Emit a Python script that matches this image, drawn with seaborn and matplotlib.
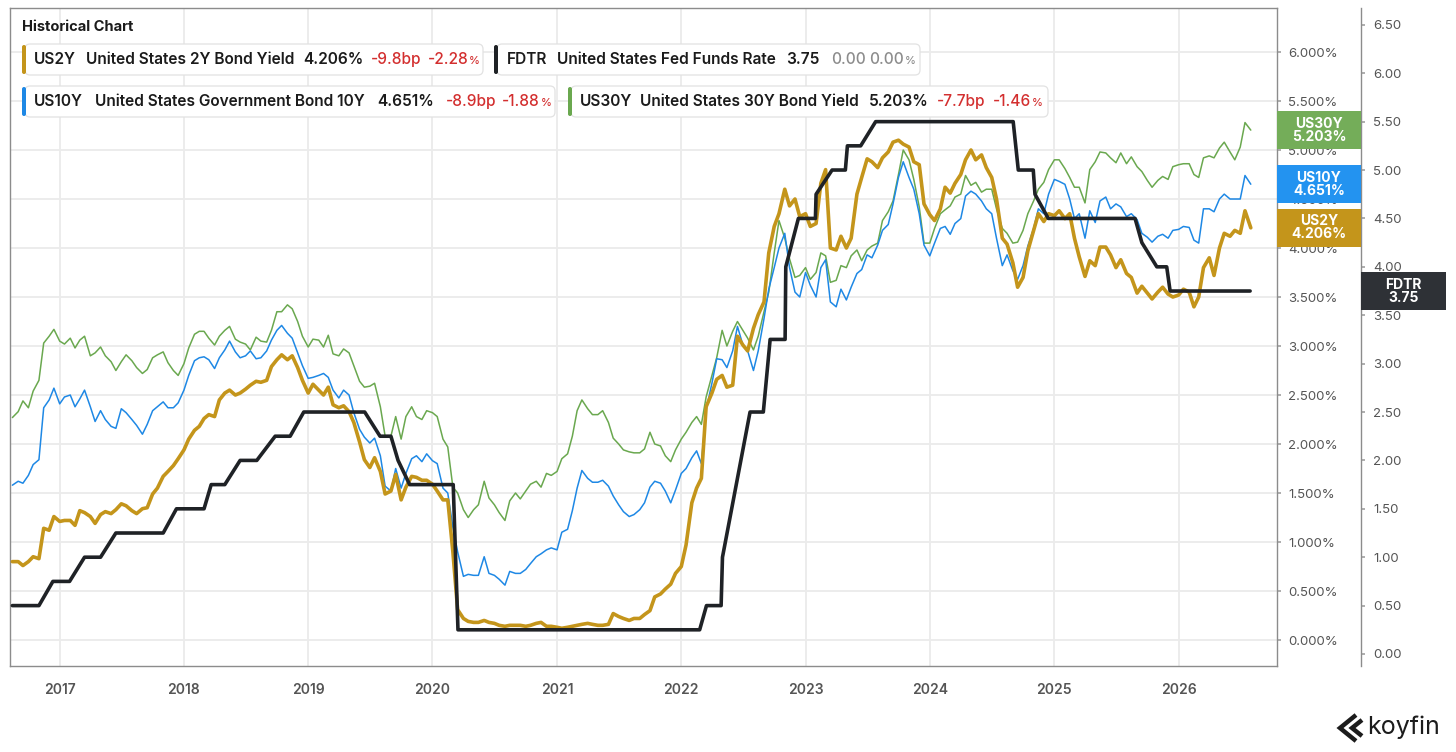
import numpy as np
import pandas as pd
import matplotlib
matplotlib.use("Agg")
import matplotlib.pyplot as plt
import matplotlib.transforms as mtransforms
from matplotlib.patches import FancyBboxPatch, Rectangle
from matplotlib.lines import Line2D
from matplotlib.ticker import FixedLocator, FuncFormatter
import seaborn as sns

W, H = 1456, 752

dates = pd.date_range("2016-08-15", periods=240, freq="SMS")

us2y = [
    0.80, 0.80, 0.76, 0.80, 0.85, 0.83, 1.14, 1.12, 1.26, 1.21,
    1.22, 1.22, 1.17, 1.32, 1.30, 1.26, 1.19, 1.28, 1.31, 1.29,
    1.33, 1.39, 1.37, 1.32, 1.29, 1.34, 1.35, 1.49, 1.55, 1.67,
    1.72, 1.78, 1.85, 1.94, 2.05, 2.14, 2.18, 2.26, 2.30, 2.28,
    2.45, 2.52, 2.55, 2.50, 2.52, 2.56, 2.60, 2.64, 2.63, 2.65,
    2.79, 2.86, 2.91, 2.86, 2.90, 2.78, 2.65, 2.52, 2.61, 2.55,
    2.50, 2.58, 2.40, 2.37, 2.39, 2.33, 2.22, 2.02, 1.84, 1.76,
    1.86, 1.72, 1.49, 1.52, 1.69, 1.43, 1.56, 1.67, 1.66, 1.63,
    1.63, 1.59, 1.52, 1.43, 1.43, 0.90, 0.31, 0.22, 0.19, 0.18,
    0.18, 0.20, 0.18, 0.17, 0.15, 0.14, 0.15, 0.15, 0.15, 0.14,
    0.15, 0.17, 0.18, 0.14, 0.14, 0.13, 0.12, 0.13, 0.14, 0.15,
    0.16, 0.17, 0.16, 0.15, 0.15, 0.16, 0.27, 0.24, 0.22, 0.20,
    0.22, 0.22, 0.26, 0.30, 0.44, 0.47, 0.52, 0.57, 0.68, 0.75,
    0.97, 1.40, 1.55, 1.65, 2.38, 2.52, 2.66, 2.70, 2.58, 2.60,
    3.10, 3.01, 2.95, 3.18, 3.32, 3.45, 3.95, 4.22, 4.35, 4.60,
    4.43, 4.50, 4.32, 4.35, 4.22, 4.25, 4.66, 4.80, 4.00, 3.98,
    4.12, 4.00, 4.10, 4.55, 4.72, 4.91, 4.88, 4.82, 4.92, 4.98,
    5.08, 5.10, 5.06, 5.03, 4.88, 4.85, 4.45, 4.34, 4.28, 4.40,
    4.62, 4.56, 4.66, 4.75, 4.90, 5.00, 4.90, 4.95, 4.82, 4.72,
    4.50, 4.10, 4.04, 3.85, 3.60, 3.70, 3.97, 4.18, 4.35, 4.27,
    4.35, 4.33, 4.38, 4.30, 4.35, 4.10, 3.91, 3.71, 3.87, 3.82,
    4.01, 4.01, 3.93, 3.80, 3.88, 3.74, 3.70, 3.54, 3.61, 3.54,
    3.48, 3.55, 3.60, 3.53, 3.50, 3.52, 3.58, 3.55, 3.40, 3.50,
    3.80, 3.90, 3.72, 4.00, 4.15, 4.12, 4.18, 4.15, 4.38, 4.206,
]

us10y = [
    1.58, 1.62, 1.60, 1.68, 1.79, 1.84, 2.37, 2.45, 2.57, 2.41,
    2.48, 2.50, 2.38, 2.46, 2.55, 2.38, 2.23, 2.34, 2.25, 2.18,
    2.16, 2.36, 2.32, 2.25, 2.19, 2.10, 2.20, 2.34, 2.38, 2.43,
    2.37, 2.37, 2.42, 2.55, 2.70, 2.85, 2.88, 2.89, 2.86, 2.77,
    2.88, 2.96, 3.05, 2.94, 2.88, 2.90, 2.95, 2.87, 2.88, 2.95,
    3.06, 3.16, 3.21, 3.13, 3.08, 2.93, 2.80, 2.67, 2.68, 2.70,
    2.72, 2.68, 2.55, 2.47, 2.55, 2.50, 2.32, 2.15, 2.07, 2.01,
    2.06, 1.88, 1.57, 1.52, 1.75, 1.55, 1.70, 1.85, 1.88, 1.82,
    1.90, 1.83, 1.80, 1.55, 1.50, 1.15, 0.90, 0.65, 0.67, 0.66,
    0.66, 0.85, 0.68, 0.66, 0.62, 0.56, 0.70, 0.68, 0.68, 0.72,
    0.78, 0.85, 0.88, 0.92, 0.94, 0.92, 1.10, 1.13, 1.32, 1.55,
    1.73, 1.65, 1.61, 1.61, 1.63, 1.57, 1.47, 1.38, 1.31, 1.26,
    1.28, 1.33, 1.40, 1.56, 1.62, 1.60, 1.52, 1.40, 1.53, 1.70,
    1.75, 1.86, 1.93, 1.80, 2.35, 2.62, 2.87, 2.86, 2.78, 2.95,
    3.20, 3.01, 2.95, 2.75, 2.95, 3.28, 3.58, 3.80, 4.00, 4.15,
    3.80, 3.55, 3.50, 3.75, 3.62, 3.50, 3.80, 3.88, 3.45, 3.40,
    3.58, 3.47, 3.60, 3.74, 3.78, 3.93, 3.90, 4.03, 4.18, 4.24,
    4.45, 4.72, 4.88, 4.72, 4.60, 4.35, 4.03, 3.92, 4.05, 4.20,
    4.22, 4.14, 4.25, 4.30, 4.53, 4.58, 4.55, 4.48, 4.40, 4.35,
    4.10, 3.82, 3.93, 3.77, 3.68, 3.82, 4.02, 4.20, 4.40, 4.35,
    4.55, 4.70, 4.68, 4.65, 4.50, 4.30, 4.35, 4.10, 4.38, 4.26,
    4.48, 4.52, 4.40, 4.45, 4.42, 4.32, 4.35, 4.29, 4.15, 4.11,
    4.06, 4.12, 4.14, 4.10, 4.18, 4.19, 4.22, 4.21, 4.08, 4.05,
    4.40, 4.40, 4.37, 4.50, 4.55, 4.50, 4.50, 4.50, 4.74, 4.651,
]

us30y = [
    2.27, 2.33, 2.44, 2.37, 2.54, 2.65, 3.03, 3.10, 3.17, 3.05,
    3.02, 3.08, 2.98, 3.06, 3.10, 2.90, 2.93, 2.99, 2.90, 2.84,
    2.75, 2.84, 2.91, 2.85, 2.78, 2.72, 2.76, 2.88, 2.91, 2.94,
    2.83, 2.75, 2.70, 2.82, 2.98, 3.12, 3.15, 3.15, 3.08, 3.01,
    3.10, 3.16, 3.20, 3.07, 3.04, 3.02, 2.96, 3.09, 3.05, 3.04,
    3.16, 3.35, 3.35, 3.42, 3.38, 3.25, 3.10, 2.99, 3.07, 3.06,
    2.99, 3.11, 2.92, 2.90, 2.97, 2.93, 2.80, 2.64, 2.58, 2.59,
    2.62, 2.38, 2.08, 2.08, 2.28, 2.05, 2.28, 2.38, 2.28, 2.25,
    2.34, 2.32, 2.28, 2.05, 1.97, 1.56, 1.50, 1.33, 1.25, 1.33,
    1.38, 1.62, 1.45, 1.38, 1.30, 1.22, 1.42, 1.50, 1.44, 1.52,
    1.59, 1.62, 1.56, 1.70, 1.68, 1.72, 1.85, 1.90, 2.08, 2.34,
    2.45, 2.36, 2.30, 2.30, 2.34, 2.22, 2.06, 2.00, 1.94, 1.92,
    1.91, 1.91, 1.95, 2.12, 2.00, 1.98, 1.88, 1.82, 1.94, 2.05,
    2.12, 2.22, 2.28, 2.20, 2.48, 2.70, 2.88, 3.16, 3.00, 3.15,
    3.25, 3.16, 3.08, 2.96, 3.10, 3.35, 3.55, 3.95, 4.28, 4.10,
    3.89, 3.70, 3.72, 3.80, 3.68, 3.75, 3.95, 3.92, 3.65, 3.67,
    3.82, 3.80, 3.92, 3.98, 3.87, 3.98, 4.02, 4.05, 4.28, 4.37,
    4.48, 4.75, 5.00, 4.90, 4.70, 4.42, 4.05, 4.05, 4.20, 4.35,
    4.39, 4.43, 4.52, 4.55, 4.74, 4.64, 4.67, 4.57, 4.60, 4.60,
    4.40, 4.20, 4.15, 4.05, 4.06, 4.18, 4.35, 4.48, 4.60, 4.67,
    4.80, 4.90, 4.90, 4.81, 4.72, 4.62, 4.62, 4.46, 4.80, 4.88,
    4.98, 4.97, 4.92, 4.87, 4.97, 4.86, 4.93, 4.83, 4.78, 4.69,
    4.62, 4.69, 4.73, 4.70, 4.83, 4.85, 4.86, 4.86, 4.75, 4.72,
    4.92, 4.94, 4.92, 5.02, 5.08, 4.98, 4.90, 5.03, 5.28, 5.203,
]

# fed funds rate (upper bound), vertices of the drawn line
fdtr_dates = [
    "2016-08-15", "2016-11-01", "2016-12-12", "2017-01-30", "2017-03-15",
    "2017-05-01", "2017-06-15", "2017-11-01", "2017-12-10", "2018-03-01",
    "2018-03-22", "2018-05-01", "2018-06-15", "2018-08-03", "2018-09-26",
    "2018-11-09", "2018-12-19", "2019-06-16", "2019-07-31", "2019-09-01",
    "2019-09-22", "2019-10-26", "2020-03-02", "2020-03-16", "2022-02-24",
    "2022-03-16", "2022-04-28", "2022-05-02", "2022-07-22", "2022-08-30",
    "2022-09-19", "2022-11-02", "2022-11-04", "2022-12-11", "2023-01-30",
    "2023-02-01", "2023-03-20", "2023-04-28", "2023-05-04", "2023-06-12",
    "2023-07-26", "2024-09-02", "2024-09-17", "2024-10-31", "2024-11-05",
    "2024-12-14", "2025-08-26", "2025-09-15", "2025-10-29", "2025-11-27",
    "2025-12-07", "2026-07-30",
]
fdtr = [
    0.50, 0.50, 0.75, 0.75, 1.00, 1.00, 1.25, 1.25, 1.50, 1.50,
    1.75, 1.75, 2.00, 2.00, 2.25, 2.25, 2.50, 2.50, 2.25, 2.25,
    2.00, 1.75, 1.75, 0.25, 0.25, 0.50, 0.50, 1.00, 2.50, 2.50,
    3.25, 3.25, 4.00, 4.50, 4.50, 4.75, 5.00, 5.00, 5.25, 5.25,
    5.50, 5.50, 5.00, 5.00, 4.75, 4.50, 4.50, 4.25, 4.00, 4.00,
    3.75, 3.75,
]

years = list(range(2017, 2027))

GOLD = "#c4951b"
BLUE = "#1e88e5"
GREEN = "#6aa84f"
DARK = "#1f2226"
TXT = "#1b1b1b"
RED = "#d32f2f"
GREY = "#8c8c8c"
AXC = "#8c8c8c"

sns.set_style("white")
plt.rcParams["font.family"] = ["Inter", "DejaVu Sans"]

fig = plt.figure(figsize=(W / 100, H / 100), dpi=100)
ax = fig.add_axes([10 / W, 1 - 666 / H, 1267 / W, 658 / H])
ax2 = ax.twinx()

sns.lineplot(x=dates, y=us30y, ax=ax, color=GREEN, lw=1.1, zorder=2, legend=False)
sns.lineplot(x=dates, y=us10y, ax=ax, color=BLUE, lw=1.1, zorder=3, legend=False)
sns.lineplot(x=dates, y=us2y, ax=ax, color=GOLD, lw=2.6, zorder=4, legend=False)
sns.lineplot(x=pd.to_datetime(fdtr_dates), y=fdtr, ax=ax2, color=DARK, lw=2.6,
             legend=False)

ax.set_xlim(pd.Timestamp("2016-08-08"), pd.Timestamp("2026-10-17"))
ax.set_ylim(-0.265, 6.449)
ax2.set_ylim(-0.124, 6.674)
for a in (ax, ax2):
    a.set_xlabel("")
    a.set_ylabel("")

# x axis: years
ax.set_xticks([pd.Timestamp(f"{y}-01-01") for y in years])
ax.set_xticklabels([str(y) for y in years])
ax.tick_params(axis="x", length=5, width=1, color="#a0a0a0", pad=7,
               labelsize=10, labelcolor="#555555")
for t in ax.get_xticklabels():
    t.set_fontweight("semibold")

# yields axis (percent) just right of the plot
ax.yaxis.set_major_locator(FixedLocator(np.arange(0, 6.01, 0.5)))
ax.yaxis.set_major_formatter(FuncFormatter(lambda v, _: f"{v:.3f}%"))
ax.yaxis.tick_right()
ax.tick_params(axis="y", right=True, left=False, labelright=True, labelleft=False,
               length=3, width=1.2, color="#a0a0a0", pad=5, labelsize=9.5,
               labelcolor="#555555")

# fed funds axis further right
ax2.yaxis.set_major_locator(FixedLocator(np.arange(0, 6.51, 0.5)))
ax2.yaxis.set_major_formatter(FuncFormatter(lambda v, _: f"{v:.2f}"))
ax2.spines["right"].set_position(("axes", 1351 / 1267))
ax2.tick_params(axis="y", length=3, width=1.2, color="#a0a0a0", pad=6,
                labelsize=9.5, labelcolor="#555555")

ax.grid(True, color="#ebebeb", lw=1.3)
ax.set_axisbelow(True)
ax2.grid(False)
for s in ax.spines.values():
    s.set_color(AXC)
    s.set_linewidth(1.0)
for k in ("top", "left", "bottom"):
    ax2.spines[k].set_visible(False)
ax2.spines["right"].set_color(AXC)
ax2.spines["right"].set_linewidth(1.0)

# ---- overlays in pixel coordinates ----
ident = mtransforms.IdentityTransform()
renderer = fig.canvas.get_renderer()


def ptext(x, y, s, **kw):
    return fig.text(x, H - y, s, transform=ident, **kw)


ptext(22, 27, "Historical Chart", fontsize=10.5, weight="bold", color=TXT, va="center")

probe = fig.text(0, 0, "United States Fed Funds Rate", fontsize=10, weight="semibold")
fs = 10 * 219 / probe.get_window_extent(renderer).width
probe.remove()

chips = [
    (25, 483, 44, 75, GOLD, [(34, "US2Y", TXT, ""), (86, "United States 2Y Bond Yield", TXT, ""),
                             (303, "4.206%", TXT, ""), (371, "-9.8bp", RED, ""),
                             (427.5, "-2.28", RED, "%")]),
    (497, 920, 44, 75, DARK, [(507, "FDTR", TXT, ""), (557, "United States Fed Funds Rate", TXT, ""),
                              (786, "3.75", TXT, ""), (831, "0.00", GREY, ""),
                              (869, "0.00", GREY, "%")]),
    (25, 555, 86, 117, BLUE, [(34, "US10Y", TXT, ""),
                              (95, "United States Government Bond 10Y", TXT, ""),
                              (377, "4.651%", TXT, ""), (446, "-8.9bp", RED, ""),
                              (502, "-1.88", RED, "%")]),
    (571, 1048, 86, 117, GREEN, [(580, "US30Y", TXT, ""),
                                 (640, "United States 30Y Bond Yield", TXT, ""),
                                 (868.5, "5.203%", TXT, ""), (937, "-7.7bp", RED, ""),
                                 (992.4, "-1.46", RED, "%")]),
]
for x0, x1, y0, y1, col, parts in chips:
    box = FancyBboxPatch((x0, H - y1), x1 - x0, y1 - y0,
                         boxstyle="round,pad=0,rounding_size=5", transform=ident,
                         fc="white", ec="#e2e2e2", lw=0.9, zorder=5)
    fig.add_artist(box)
    bar = FancyBboxPatch((x0 - 3, H - y1 + 1), 4, y1 - y0 - 2,
                         boxstyle="round,pad=0,rounding_size=2", transform=ident,
                         fc=col, ec="none", zorder=6)
    fig.add_artist(bar)
    yc = (y0 + y1) / 2
    for x, s, c, suffix in parts:
        w = "semibold" if c == TXT else "medium"
        t = ptext(x, yc, s, fontsize=fs, weight=w, color=c, va="center", zorder=7)
        if suffix:
            ext = t.get_window_extent(renderer)
            ptext(ext.x1 + 1, yc + 1, suffix, fontsize=fs * 0.72, weight=w, color=c,
                  va="center", zorder=7)

# last-value tags on the right
tags = [
    (ax, us30y[-1], "#74ad59", "US30Y", f"{us30y[-1]:.3f}%", 1277, 1361),
    (ax, us10y[-1], "#2393f0", "US10Y", f"{us10y[-1]:.3f}%", 1277, 1361),
    (ax, us2y[-1], GOLD, "US2Y", f"{us2y[-1]:.3f}%", 1277, 1361),
    (ax2, fdtr[-1], "#2e3136", "FDTR", f"{fdtr[-1]:.2f}", 1361, 1446),
]
for a, v, col, l1, l2, x0, x1 in tags:
    yd = a.transData.transform((0, v))[1]
    fig.add_artist(Rectangle((x0, yd - 19), x1 - x0, 38, transform=ident,
                             fc=col, ec="none", zorder=8))
    xc = (x0 + x1) / 2
    fig.text(xc, yd + 6.5, l1, transform=ident, ha="center", va="center",
             color="white", fontsize=10, weight="bold", zorder=9)
    fig.text(xc, yd - 6.5, l2, transform=ident, ha="center", va="center",
             color="white", fontsize=10, weight="bold", zorder=9)

# koyfin mark
for pts in ([(1356, 715), (1340, 728), (1356, 741)], [(1362, 720), (1352, 728), (1362, 736)]):
    xs, ys = zip(*pts)
    fig.add_artist(Line2D(xs, [H - y for y in ys], transform=ident, lw=3.2,
                          color="#1c1c1c", solid_joinstyle="miter", solid_capstyle="butt"))
ptext(1367, 727, "koyfin", fontsize=18, color="#1c1c1c", va="center")

fig.savefig("out.png", dpi=100)
